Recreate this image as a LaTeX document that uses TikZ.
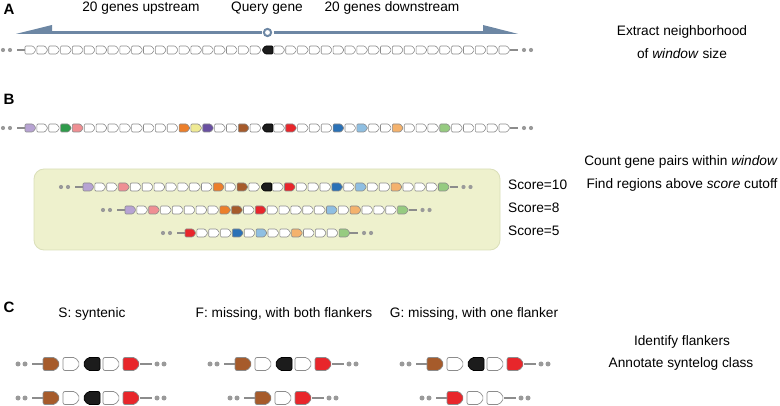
\documentclass[tikz,border=0pt]{standalone}
\usepackage{fontspec}
\setmainfont{Liberation Sans}
\usetikzlibrary{calc}
\definecolor{gw}{HTML}{FFFFFF}
\definecolor{gL}{HTML}{B7A3D3}
\definecolor{gN}{HTML}{2F9B4B}
\definecolor{gP}{HTML}{EF8F93}
\definecolor{gO}{HTML}{EC7F2B}
\definecolor{gY}{HTML}{EFEA94}
\definecolor{gV}{HTML}{6950A1}
\definecolor{gB}{HTML}{A65B2B}
\definecolor{gK}{HTML}{1C1C1C}
\definecolor{gR}{HTML}{E8262B}
\definecolor{gU}{HTML}{2A71B6}
\definecolor{gC}{HTML}{8FBFE2}
\definecolor{gF}{HTML}{F4B26D}
\definecolor{gG}{HTML}{96CB80}
\definecolor{arrowc}{HTML}{6D87A4}
\definecolor{boxfill}{HTML}{EEF1CD}
\definecolor{boxline}{HTML}{DADFB9}
\definecolor{linec}{HTML}{8C8C8C}
\definecolor{dotc}{HTML}{9A9A9A}
\newcommand\fs{\fontsize{13.7}{16}\selectfont}
\tikzset{
  genestyle/.style={draw=linec, line width=0.6pt, rounded corners=1pt, line join=round},
  bigstyle/.style={draw=linec, line width=0.7pt, rounded corners=2pt, line join=round},
  bb/.style={draw=linec, line width=1.2pt},
  dotfill/.style={fill=dotc},
  lbl/.style={inner sep=0pt, font=\fs, anchor=base},
  panel/.style={inner sep=0pt, font=\fontsize{15}{17}\selectfont\bfseries, anchor=base},
  boxst/.style={draw=boxline, fill=boxfill, line width=0.8pt, rounded corners=10pt},
}
\newcommand\geneR[7]{%
  \draw[#7,fill=#3] (#1,#2-#5/2) -- (#1+#4-#6,#2-#5/2) -- (#1+#4,#2) -- (#1+#4-#6,#2+#5/2) -- (#1,#2+#5/2) -- cycle;}
\newcommand\geneL[7]{%
  \draw[#7,fill=#3] (#1+#4,#2-#5/2) -- (#1+#6,#2-#5/2) -- (#1,#2) -- (#1+#6,#2+#5/2) -- (#1+#4,#2+#5/2) -- cycle;}
\newcommand\smallrow[3]{%
  \foreach \c [count=\i from 0] in {#3} {\xdef\rowN{\i}}%
  \pgfmathsetmacro\rowE{#1+(\rowN+1)*11.85-0.85}%
  \draw[bb] (#1-8,#2) -- (#1,#2) (\rowE,#2) -- (\rowE+8,#2);
  \fill[dotfill] (#1-22,#2) circle (2.1pt) (#1-15,#2) circle (2.1pt) (\rowE+14,#2) circle (2.1pt) (\rowE+21,#2) circle (2.1pt);
  \foreach \c [count=\i from 0] in {#3} {%
    \pgfmathsetmacro\xx{#1+\i*11.85}%
    \if\c K\geneL{\xx}{#2}{g\c}{11}{8}{3}{genestyle,draw=black}\else\geneR{\xx}{#2}{g\c}{11}{8}{3}{genestyle}\fi
  }}
\newcommand\bigrow[3]{%
  \foreach \c [count=\i from 0] in {#3} {\xdef\rowN{\i}}%
  \pgfmathsetmacro\rowE{#1+(\rowN+1)*20-3}%
  \draw[bb] (#1-11,#2) -- (#1,#2) (\rowE,#2) -- (\rowE+12,#2);
  \fill[dotfill] (#1-25,#2) circle (2.5pt) (#1-18,#2) circle (2.5pt) (\rowE+17,#2) circle (2.5pt) (\rowE+24,#2) circle (2.5pt);
  \foreach \c [count=\i from 0] in {#3} {%
    \pgfmathsetmacro\xx{#1+\i*20}%
    \if\c K\geneL{\xx}{#2}{g\c}{17}{13}{4.5}{bigstyle,draw=black}\else\geneR{\xx}{#2}{g\c}{17}{13}{4.5}{bigstyle}\fi
  }}
\begin{document}
\begin{tikzpicture}[x=1pt,y=-1pt]
\useasboundingbox (0,0) rectangle (780,406);
% ---------- Panel A ----------
\node[panel] (pa) at (9,15) {A};
\node[lbl] (up) at (141,12) {20 genes upstream};
\node[lbl] (qg) at (267,12) {Query gene};
\node[lbl] (down) at (392,12) {20 genes downstream};
\coordinate (qc) at (267.5,32.5);
\coordinate (al) at (52,32.5);
\coordinate (ar) at (483,32.5);
\fill[arrowc] (16,33.9) -- (52,25) -- (52,33.9) -- cycle;
\fill[arrowc] (483,25) -- (518,33.9) -- (483,33.9) -- cycle;
\draw[arrowc, line width=2.6pt] (al) -- ($(qc)+(-6,0)$);
\draw[arrowc, line width=2.6pt] ($(qc)+(6,0)$) -- (ar);
\draw[arrowc, line width=2pt, fill=white] (qc) circle (3.6pt);
\smallrow{25}{50}{w,w,w,w,w,w,w,w,w,w,w,w,w,w,w,w,w,w,w,w,K,w,w,w,w,w,w,w,w,w,w,w,w,w,w,w,w,w,w,w,w}
\node[lbl] (t1) at (682,36) {Extract neighborhood};
\node[lbl] (t2) at (682,59) {of \textit{window} size};
% ---------- Panel B ----------
\node[panel] (pb) at (9,105) {B};
\smallrow{25}{128}{L,w,w,N,P,w,w,w,w,w,w,w,w,O,Y,V,w,w,B,w,K,w,R,w,w,w,U,w,C,w,w,F,w,w,w,G,w,w,w,w,w}
\draw[boxst] (34,169) rectangle (500,250);
\smallrow{83}{187}{L,w,w,P,w,w,w,w,w,w,w,O,w,B,w,K,w,R,w,w,w,U,w,C,w,w,F,w,w,w,G}
\smallrow{125}{210}{L,w,P,w,w,w,w,w,O,B,w,R,w,w,w,w,w,C,w,F,w,w,w,G}
\smallrow{185}{233}{R,w,w,w,U,w,C,w,w,F,w,w,w,G}
\node[lbl, anchor=base west] (s10) at (508,190) {Score=10};
\node[lbl, anchor=base west] (s8) at (508,213) {Score=8};
\node[lbl, anchor=base west] (s5) at (508,236) {Score=5};
\node[lbl] (t3) at (681,166) {Count gene pairs within \textit{window}};
\node[lbl] (t4) at (682,189) {Find regions above \textit{score} cutoff};
% ---------- Panel C ----------
\node[panel] (pc) at (9,313) {C};
\node[lbl] (ls) at (92,318) {S: syntenic};
\node[lbl] (lf) at (284,318) {F: missing, with both flankers};
\node[lbl] (lg) at (474,318) {G: missing, with one flanker};
\bigrow{43}{364}{B,w,K,w,R}
\bigrow{43}{398}{B,w,K,w,R}
\bigrow{235}{364}{B,w,K,w,R}
\bigrow{255}{398}{B,w,R}
\bigrow{427}{364}{B,w,K,w,R}
\bigrow{447}{398}{R,w,w}
\node[lbl] (t5) at (682,345) {Identify flankers};
\node[lbl] (t6) at (681,368) {Annotate syntelog class};
\end{tikzpicture}
\end{document}
